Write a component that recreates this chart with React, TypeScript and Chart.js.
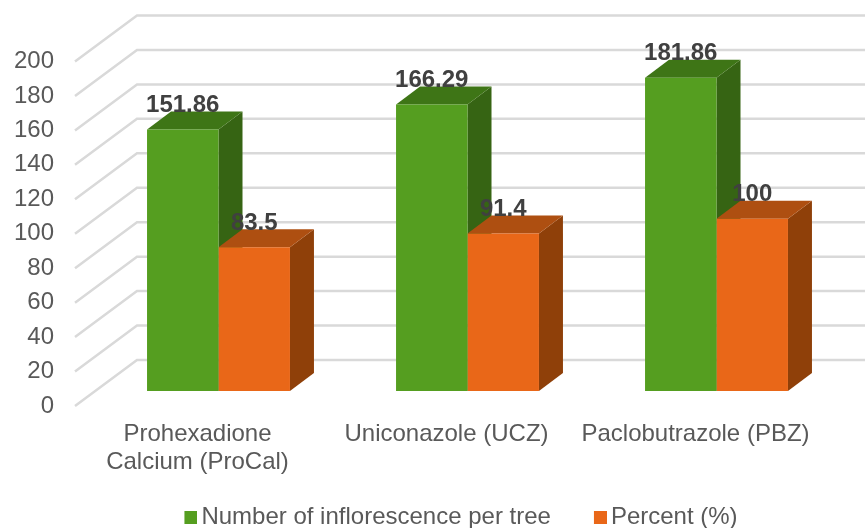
import React, { useEffect, useRef } from "react";
import { Chart, registerables } from "chart.js";

Chart.register(...registerables);

const categories = [["Prohexadione", "Calcium (ProCal)"], "Uniconazole (UCZ)", "Paclobutrazole (PBZ)"];
const inflorescence = [151.86, 166.29, 181.86];
const percent = [83.5, 91.4, 100];
const yTicks = [0, 20, 40, 60, 80, 100, 120, 140, 160, 180, 200];
const seriesNames = ["Number of inflorescence per tree", "Percent (%)"];

const FRONT = ["#559E20", "#E96718"];
const TOP = ["#3E7516", "#AE4F11"];
const SIDE = ["#366413", "#8F4009"];
const DX = 24;
const DY = 18;
const FONT = "'Liberation Sans'";

function swatch(color: string) {
  const c = document.createElement("canvas");
  c.width = 17;
  c.height = 13;
  const g = c.getContext("2d") as CanvasRenderingContext2D;
  g.fillStyle = color;
  g.fillRect(4, 0, 13, 13);
  return c;
}

const threeD = {
  id: "threeD",
  afterLayout(chart: any) {
    const lg = chart.legend;
    lg.top = 520 - 47 - 14.4;
    lg.left += 42.5;
    lg.right += 42.5;
  },
  beforeDatasetsDraw(chart: any) {
    const ctx = chart.ctx;
    const y = chart.scales.y;
    ctx.save();
    ctx.strokeStyle = "#d9d9d9";
    ctx.lineWidth = 2.5;
    y.ticks.forEach((t: any) => {
      const py = y.getPixelForValue(t.value);
      ctx.beginPath();
      ctx.moveTo(75, py + 15);
      ctx.lineTo(137, py - 31);
      ctx.lineTo(870, py - 31);
      ctx.stroke();
    });
    chart.data.datasets.forEach((_: any, d: number) => {
      chart.getDatasetMeta(d).data.forEach((b: any) => {
        const l = b.x - b.width / 2;
        const r = b.x + b.width / 2;
        const face = (pts: number[][], fill: string) => {
          ctx.beginPath();
          pts.forEach((p, i) => (i ? ctx.lineTo(p[0], p[1]) : ctx.moveTo(p[0], p[1])));
          ctx.closePath();
          ctx.fillStyle = fill;
          ctx.fill();
        };
        face([[r, b.y], [r + DX, b.y - DY], [r + DX, b.base - DY], [r, b.base]], SIDE[d]);
        face([[l, b.y], [l + DX, b.y - DY], [r + DX, b.y - DY], [r, b.y]], TOP[d]);
      });
    });
    ctx.restore();
  },
  afterDatasetsDraw(chart: any) {
    const ctx = chart.ctx;
    ctx.save();
    ctx.font = `bold 24px ${FONT}`;
    ctx.fillStyle = "#404040";
    ctx.textAlign = "center";
    ctx.textBaseline = "middle";
    chart.data.datasets.forEach((ds: any, d: number) => {
      chart.getDatasetMeta(d).data.forEach((b: any, i: number) => {
        ctx.fillText(String(ds.data[i]), b.x, b.y - 24);
      });
    });
    ctx.restore();
  },
};

export default function App() {
  const ref = useRef<HTMLCanvasElement>(null);
  useEffect(() => {
    const swatches = FRONT.map(swatch);
    const chart = new Chart(ref.current as HTMLCanvasElement, {
      type: "bar",
      data: {
        labels: categories as any,
        datasets: [
          { label: seriesNames[0], data: inflorescence, backgroundColor: FRONT[0] },
          { label: seriesNames[1], data: percent, backgroundColor: FRONT[1] },
        ],
      },
      plugins: [threeD],
      options: {
        animation: false,
        responsive: false,
        layout: { autoPadding: false, padding: { top: 46.5, right: 86, bottom: 0, left: 0 } },
        datasets: { bar: { categoryPercentage: 0.574, barPercentage: 1 } },
        plugins: {
          tooltip: { enabled: false },
          legend: {
            position: "bottom",
            labels: {
              usePointStyle: true,
              boxWidth: 1,
              boxHeight: 13,
              padding: 47,
              color: "#595959",
              font: { family: FONT, size: 24 },
              generateLabels: (c: any) =>
                c.data.datasets.map((ds: any, i: number) => ({
                  text: ds.label,
                  pointStyle: swatches[i],
                  datasetIndex: i,
                  hidden: false,
                  fontColor: "#595959",
                })),
            },
          },
        },
        scales: {
          x: {
            grid: { display: false },
            border: { display: false },
            afterFit: (s: any) => {
              s.height = 80;
              s.paddingLeft = 0;
              s.paddingRight = 0;
            },
            ticks: {
              color: "#595959",
              padding: 6,
              maxRotation: 0,
              autoSkip: false,
              labelOffset: -21,
              font: { family: FONT, size: 24, lineHeight: 1.167 },
            },
          },
          y: {
            min: -8.7,
            max: 200,
            afterBuildTicks: (s: any) => {
              s.ticks = yTicks.map((value) => ({ value }));
            },
            grid: { display: false, drawTicks: false },
            border: { display: false },
            afterFit: (s: any) => {
              s.width = 94;
              s.paddingTop = 0;
              s.paddingBottom = 0;
            },
            ticks: {
              color: "#595959",
              padding: 40,
              autoSkip: false,
              labelOffset: 15,
              font: { family: FONT, size: 24 },
            },
          },
        },
      },
    } as any);
    return () => chart.destroy();
  }, []);
  return (
    <div style={{ position: "absolute", left: 0, top: 0, width: 865, height: 528, overflow: "hidden", background: "#fff" }}>
      <canvas ref={ref} width={927} height={567} style={{ display: "block" }} />
    </div>
  );
}
